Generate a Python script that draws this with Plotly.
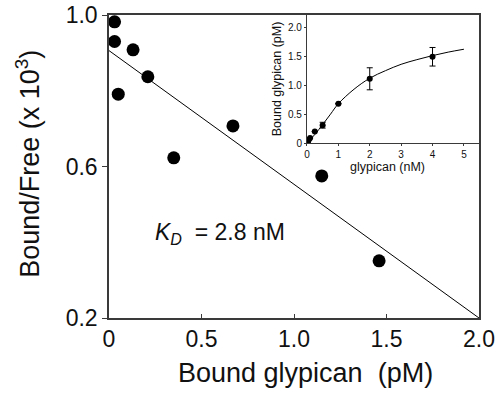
import plotly.graph_objects as go

# Main Scatchard plot data
bound_pm = [0.03, 0.03, 0.13, 0.21, 0.05, 0.67, 0.35, 1.15, 1.46]
bound_free = [0.982, 0.930, 0.908, 0.837, 0.791, 0.707, 0.623, 0.575, 0.351]
fit_x = [0.0, 2.0]
fit_y = [0.906, 0.2]

# Inset saturation data
inset_x = [0.02, 0.05, 0.1, 0.25, 0.5, 1.0, 2.0, 4.0]
inset_y = [0.01, 0.05, 0.09, 0.2, 0.31, 0.68, 1.11, 1.49]
inset_err = [0.0, 0.0, 0.0, 0.0, 0.05, 0.0, 0.19, 0.16]
curve_x = [0, 0.25, 0.5, 0.75, 1.0, 1.5, 2.0, 2.5, 3.0, 3.5, 4.0, 4.5, 5.0]
curve_y = [0, 0.15, 0.32, 0.5, 0.68, 0.93, 1.12, 1.25, 1.36, 1.44, 1.51, 1.57, 1.62]

main_ticks = [0, 0.5, 1.0, 1.5, 2.0]
main_ticklabels = ["0", "0.5", "1.0", "1.5", "2.0"]
main_yticks = [0.2, 0.6, 1.0]
main_yticklabels = ["0.2", "0.6", "1.0"]
inset_xticks = [0, 1, 2, 3, 4, 5]
inset_yticks = [0, 0.5, 1.0, 1.5, 2.0]
inset_yticklabels = ["0", "0.5", "1.0", "1.5", "2.0"]

FONT = "Liberation Sans, Arial, sans-serif"
AX = "#3a3a3a"
TXT = "#111111"

fig = go.Figure()
fig.add_trace(go.Scatter(x=fit_x, y=fit_y, mode="lines",
                         line=dict(color="black", width=1), showlegend=False))
fig.add_trace(go.Scatter(x=bound_pm, y=bound_free, mode="markers",
                         marker=dict(color="black", size=13), showlegend=False))

fig.add_trace(go.Scatter(x=curve_x, y=curve_y, mode="lines", line_shape="spline",
                         line=dict(color="black", width=1), showlegend=False,
                         xaxis="x2", yaxis="y2"))
fig.add_trace(go.Scatter(x=inset_x, y=inset_y, mode="markers",
                         marker=dict(color="black", size=6),
                         error_y=dict(type="data", array=inset_err, color="black",
                                      thickness=1, width=3),
                         showlegend=False, xaxis="x2", yaxis="y2"))

# K_D label
fig.add_annotation(x=0.24, y=0.422, xref="x", yref="y", xanchor="left", yanchor="middle",
                   text="<i>K<sub>D</sub></i>\u00a0\u00a0= 2.8 nM", showarrow=False,
                   font=dict(size=23, color=TXT, family=FONT))
# Axis titles
fig.add_annotation(x=0.530, y=-0.18, xref="paper", yref="paper", xanchor="center",
                   yanchor="middle", text="Bound glypican\u00a0\u00a0(pM)", showarrow=False,
                   font=dict(size=27, color=TXT, family=FONT))
fig.add_annotation(x=-0.218, y=0.51, xref="paper", yref="paper", xanchor="center",
                   yanchor="middle", textangle=-90, text="Bound/Free (x 10<sup>3</sup>)",
                   showarrow=False, font=dict(size=27, color=TXT, family=FONT))
# Inset titles
fig.add_annotation(x=0.754, y=0.500, xref="paper", yref="paper", xanchor="center",
                   yanchor="middle", text="glypican (nM)", showarrow=False,
                   font=dict(size=12.5, color=TXT, family=FONT))
fig.add_annotation(x=0.455, y=0.789, xref="paper", yref="paper", xanchor="center",
                   yanchor="middle", textangle=-90, text="Bound glypican (pM)",
                   showarrow=False, font=dict(size=12.5, color=TXT, family=FONT))

fig.update_layout(
    width=499, height=393,
    margin=dict(l=109, r=20, t=15, b=75, autoexpand=False),
    paper_bgcolor="white", plot_bgcolor="white",
    font=dict(family=FONT, color=TXT),
    xaxis=dict(range=[0, 2.0], domain=[0, 1], showline=True, linecolor=AX, linewidth=1.5,
               mirror=True, ticks="inside", ticklen=4, tickcolor=AX, automargin=False,
               tickvals=main_ticks, ticktext=main_ticklabels, showgrid=False, zeroline=False,
               tickfont=dict(size=23)),
    yaxis=dict(range=[0.2, 1.0], domain=[0, 1], showline=True, linecolor=AX, linewidth=1.5,
               mirror=True, ticks="outside", ticklen=5, tickcolor=AX, automargin=False,
               tickvals=main_yticks, ticktext=main_yticklabels, showgrid=False,
               zeroline=False, tickfont=dict(size=23)),
    xaxis2=dict(range=[0, 5.48], domain=[0.535, 1.0], anchor="y2", showline=True,
                linecolor=AX, linewidth=1, mirror=True, ticks="outside", ticklen=2,
                tickcolor=AX, tickvals=inset_xticks, showgrid=False, zeroline=False,
                automargin=False, tickfont=dict(size=10)),
    yaxis2=dict(range=[0, 2.21], domain=[0.577, 1.0], anchor="x2", showline=True,
                linecolor=AX, linewidth=1, mirror=True, ticks="outside", ticklen=2,
                tickcolor=AX, tickvals=inset_yticks, ticktext=inset_yticklabels,
                showgrid=False, zeroline=False, automargin=False, tickfont=dict(size=10)),
)

fig.write_html("out.html", post_script="document.body.style.margin='0';",
               config={"displayModeBar": False})
